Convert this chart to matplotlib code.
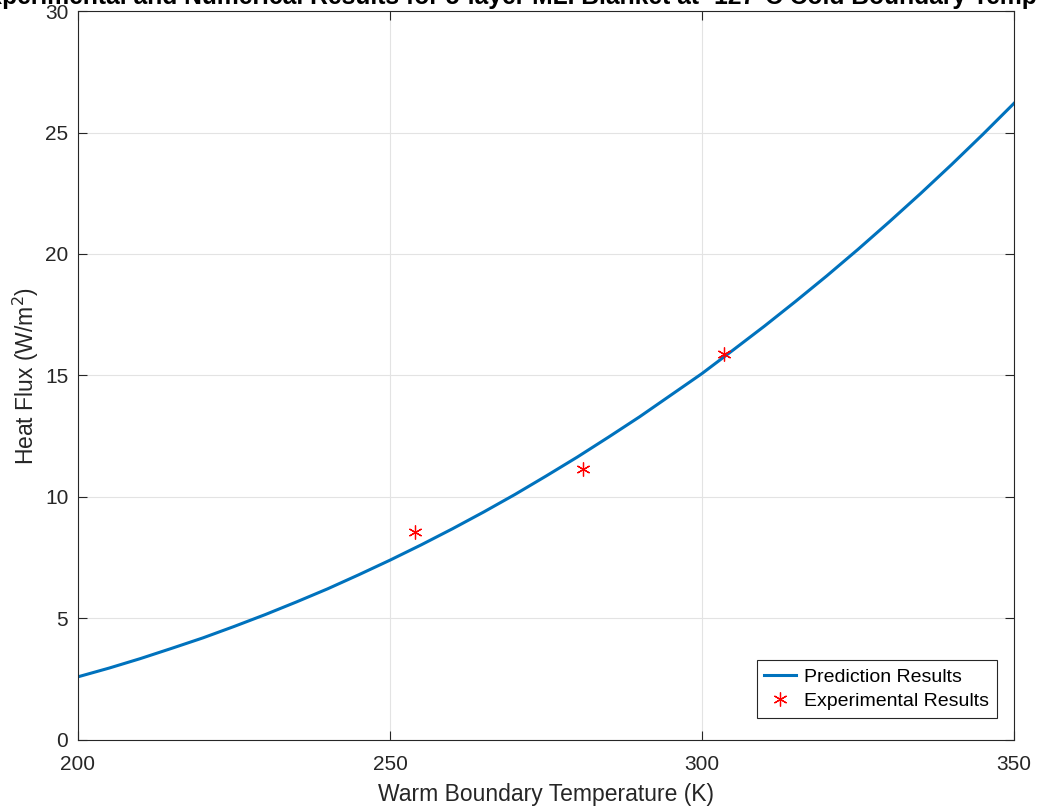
import matplotlib.pyplot as plt

# prediction curve (every 5 K)
temp_pred = [200, 205, 210, 215, 220, 225, 230, 235, 240, 245, 250, 255, 260, 265, 270, 275,
             280, 285, 290, 295, 300, 305, 310, 315, 320, 325, 330, 335, 340, 345, 350]
flux_pred = [2.6, 2.96, 3.35, 3.77, 4.2, 4.67, 5.16, 5.68, 6.22, 6.8, 7.4, 8.03, 8.69, 9.38,
             10.1, 10.86, 11.64, 12.46, 13.3, 14.19, 15.08, 16.05, 17.03, 18.05, 19.1, 20.19,
             21.32, 22.48, 23.68, 24.92, 26.2]

# measured points
temp_exp = [254.0, 281.0, 303.6]
flux_exp = [8.55, 11.15, 15.88]

title_text = 'Experimental and Numerical Results for 5-layer MLI Blanket at -127\u00b0C Cold Boundary Temperature'

plt.rcParams['font.family'] = ['Liberation Sans', 'DejaVu Sans']
dark = '#262626'

fig = plt.figure(figsize=(10.37, 8.09), dpi=100)
ax = fig.add_axes([0.0752, 0.0853, 0.9026, 0.9011])

ax.plot(temp_pred, flux_pred, color='#0072BD', lw=2.2, label='Prediction Results')
ax.plot(temp_exp, flux_exp, linestyle='none', marker=(6, 2, 0), markersize=10,
        markeredgewidth=0.9, color='red', label='Experimental Results')

ax.set_xlim(200, 350)
ax.set_ylim(0, 30)
ax.set_xticks([200, 250, 300, 350])
ax.set_yticks([0, 5, 10, 15, 20, 25, 30])
ax.grid(True, color='#e3e3e3', lw=0.8)
ax.set_axisbelow(True)
ax.tick_params(direction='in', length=6.5, width=0.8, top=True, right=True,
               labelsize=15, colors=dark)
ax.tick_params(axis='x', pad=10.5)
ax.tick_params(axis='y', pad=7)
for s in ax.spines.values():
    s.set_color(dark)
    s.set_linewidth(0.8)

ax.set_xlabel('Warm Boundary Temperature (K)', fontsize=16.5, color=dark, labelpad=7)
ax.set_ylabel('Heat Flux (W/m$^2$)', fontsize=16.5, color=dark, labelpad=3)
ax.set_title(title_text, fontsize=17.7, fontweight='bold', color='black', pad=5)

leg = ax.legend(loc='lower right', bbox_to_anchor=(0.9818, 0.0302), borderaxespad=0,
                fontsize=14, fancybox=False, edgecolor=dark, framealpha=1,
                handlelength=1.65, handletextpad=0.4, borderpad=0.4, labelspacing=0.35)
leg.get_frame().set_linewidth(0.8)

fig.savefig('out.png', dpi=100)
